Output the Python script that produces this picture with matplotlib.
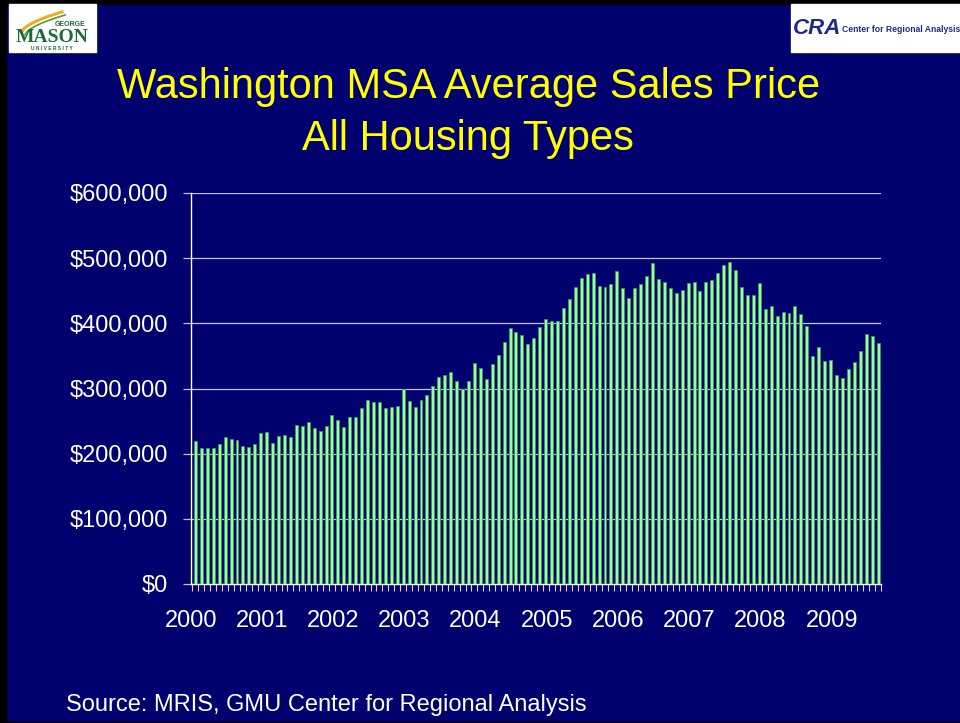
import numpy as np
import matplotlib.pyplot as plt
import matplotlib.ticker as mticker
from matplotlib.patches import Rectangle
from matplotlib.lines import Line2D

navy = '#00006e'
grid_col = '#c4c4e0'

# monthly average sales price, Jan 2000 - Aug 2009 (thousands of dollars)
years = ['2000', '2001', '2002', '2003', '2004', '2005', '2006', '2007', '2008', '2009']
price_k = [
    219, 209, 208, 209, 215, 225, 222, 221, 211, 210, 215, 232,   # 2000
    233, 216, 227, 228, 226, 244, 243, 249, 240, 235, 243, 259,   # 2001
    252, 241, 256, 256, 270, 282, 280, 280, 270, 272, 273, 300,   # 2002
    281, 272, 282, 290, 304, 317, 320, 325, 311, 300, 312, 339,   # 2003
    331, 314, 338, 351, 371, 393, 386, 382, 369, 378, 395, 407,   # 2004
    404, 403, 424, 438, 455, 470, 476, 477, 458, 455, 460, 480,   # 2005
    454, 439, 454, 461, 472, 492, 468, 464, 454, 446, 451, 462,   # 2006
    463, 449, 464, 466, 478, 490, 494, 482, 456, 444, 443, 462,   # 2007
    422, 427, 411, 418, 416, 426, 415, 396, 350, 363, 342, 344,   # 2008
    321, 316, 330, 341, 357, 384, 380, 370,                       # 2009
]
prices = np.array(price_k) * 1000

W, H = 960, 723
fig = plt.figure(figsize=(W / 100, H / 100), dpi=100, facecolor=navy)
plt.rcParams['font.family'] = ['Liberation Sans', 'DejaVu Sans']


def px(xp, yp):
    # pixel position (from top-left) -> figure fraction
    return xp / W, 1 - yp / H


# slide frame
fig.patches.append(Rectangle((0, 1 - 4 / H), 1, 4 / H, transform=fig.transFigure,
                             color='black', zorder=0))
fig.patches.append(Rectangle((0, 0), 6 / W, 1, transform=fig.transFigure,
                             color='black', zorder=0))
fig.patches.append(Rectangle((0, 0), 1, 1.5 / H, transform=fig.transFigure,
                             color='black', zorder=0))

# logo boxes
gmu_box = Rectangle(px(9, 52), 87 / W, 48 / H, transform=fig.transFigure,
                    color='white', zorder=1)
cra_box = Rectangle(px(791, 52), 169 / W, 48 / H, transform=fig.transFigure,
                    color='white', zorder=1)
fig.patches.extend([gmu_box, cra_box])

# GMU swoosh
t = np.linspace(0, 1, 30)
sx = 22 + 40 * t
sy = 32 - 20 * t ** 0.6
fig.lines.append(Line2D(sx / W, 1 - sy / H, transform=fig.transFigure,
                        color='#e8b020', linewidth=2.2, zorder=2))
fig.lines.append(Line2D((sx + 3) / W, 1 - (sy + 3) / H, transform=fig.transFigure,
                        color='#4f9a3a', linewidth=1.2, zorder=2))

fig.text(*px(70, 25), 'GEORGE', color='#1a6b3a', fontsize=5, fontweight='bold',
         ha='center', va='center', zorder=3)
fig.text(*px(52, 37), 'MASON', color='#1a6b3a', fontsize=14, fontweight='bold',
         family=['Liberation Serif', 'DejaVu Serif'], ha='center', va='center', zorder=3)
fig.text(*px(52, 48), 'U N I V E R S I T Y', color='#1a6b3a', fontsize=3.5,
         fontweight='bold', ha='center', va='center', zorder=3)

fig.text(*px(817, 29), 'CRA', color='#1c2a8c', fontsize=16, fontweight='bold',
         fontstyle='italic', ha='center', va='center', zorder=3)
fig.text(*px(842, 30), 'Center for Regional Analysis', color='#1c2a8c',
         fontsize=6.2, fontweight='bold', ha='left', va='center', zorder=3)

# title
fig.text(*px(469, 98), 'Washington MSA Average Sales Price', color='#ffff00',
         fontsize=30, ha='center', va='baseline')
fig.text(*px(468, 150), 'All Housing Types', color='#ffff00',
         fontsize=30, ha='center', va='baseline')

# chart area
x0, x1, y_top, y_bot = 190.7, 881, 193, 584
ax = fig.add_axes([x0 / W, 1 - y_bot / H, (x1 - x0) / W, (y_bot - y_top) / H])
ax.set_facecolor(navy)

x = np.arange(len(prices))
ax.bar(x, prices, width=0.5, color='#99ff99', edgecolor='#3a9a5a', linewidth=0.6, zorder=3)

ax.set_xlim(-0.5, len(prices) - 0.5)
ax.set_ylim(0, 600000)

ax.yaxis.set_major_locator(mticker.MultipleLocator(100000))
ax.yaxis.set_major_formatter(mticker.FuncFormatter(lambda v, p: '${:,.0f}'.format(v)))
ax.yaxis.grid(True, color=grid_col, linewidth=0.9, zorder=1)
ax.set_axisbelow(True)

ax.set_xticks(np.arange(len(years)) * 12 - 0.8)
ax.set_xticklabels(years)
ax.xaxis.set_minor_locator(mticker.FixedLocator(np.arange(len(prices) + 1) - 0.5))

for s in ['top', 'right']:
    ax.spines[s].set_visible(False)
for s in ['left', 'bottom']:
    ax.spines[s].set_color('white')
    ax.spines[s].set_linewidth(1.0)

ax.tick_params(axis='y', which='major', direction='out', length=5.5, width=0.9,
               color=grid_col, labelcolor='white', labelsize=17, pad=11)
ax.tick_params(axis='x', which='major', length=0, labelcolor='white',
               labelsize=17, pad=18.5)
ax.tick_params(axis='x', which='minor', direction='out', length=5, width=0.8,
               color='#dcdcf0')

fig.text(*px(66, 711), 'Source: MRIS, GMU Center for Regional Analysis',
         color='white', fontsize=17, ha='left', va='baseline')

fig.savefig('out.png', dpi=100, facecolor=navy)
